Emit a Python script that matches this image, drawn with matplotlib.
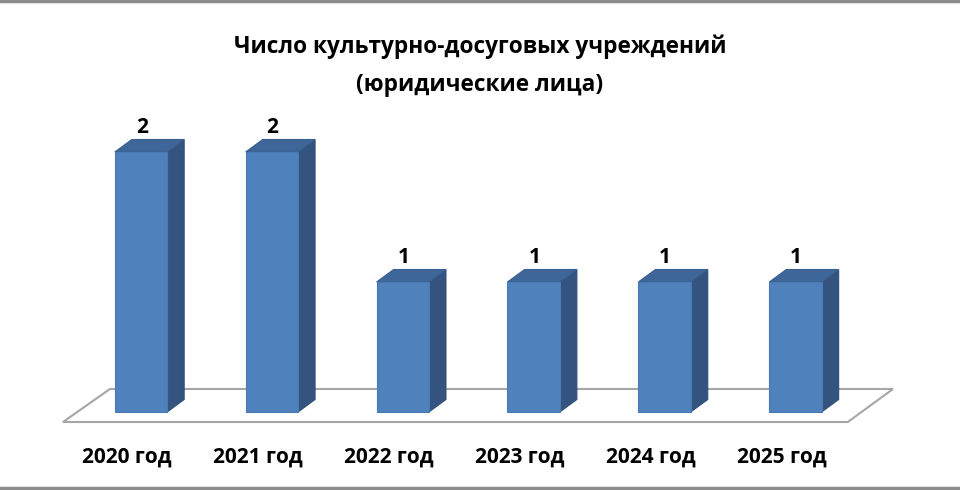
import matplotlib
matplotlib.use("Agg")
import matplotlib.pyplot as plt
from matplotlib.patches import Polygon
from matplotlib.lines import Line2D

# data
years = ["2020 год", "2021 год", "2022 год", "2023 год", "2024 год", "2025 год"]
counts = [2, 2, 1, 1, 1, 1]
title = "Число культурно-досуговых учреждений\n(юридические лица)"

plt.rcParams['font.family'] = ['Open Sans', 'DejaVu Sans']

fig = plt.figure(figsize=(9.6, 4.9), dpi=100)
ax = fig.add_axes([0, 0, 1, 1])
ax.set_xlim(-1.077, 6.257)
ax.set_ylim(-0.6, 3.169)
ax.axis('off')

# 3d look settings (in data units)
half_w = 0.2
dx, dy = 0.13, 0.096
front_col = "#4F81BD"
side_col = "#34547F"
top_col = "#3E6699"

# floor
floor = Polygon([(-0.596, -0.077), (5.40, -0.077), (5.745, 0.177), (-0.237, 0.177)],
                closed=True, facecolor="white", edgecolor="#A6A6A6", lw=1.5, zorder=1)
ax.add_patch(floor)

for i, (lab, v) in enumerate(zip(years, counts)):
    x0, x1 = i - half_w, i + half_w
    # side face
    ax.add_patch(Polygon([(x1, 0), (x1 + dx, dy), (x1 + dx, v + dy), (x1, v)],
                         facecolor=side_col, edgecolor="#30507A", lw=0.8, zorder=2))
    # top face
    ax.add_patch(Polygon([(x0, v), (x1, v), (x1 + dx, v + dy), (x0 + dx, v + dy)],
                         facecolor=top_col, edgecolor="#3A6090", lw=0.8, zorder=2))
    # front face
    ax.add_patch(Polygon([(x0, 0), (x1, 0), (x1, v), (x0, v)],
                         facecolor=front_col, edgecolor="#4A7AB4", lw=0.8, zorder=3))
    # value label
    ax.annotate(str(v), (i + 0.005, v + dy), xytext=(0, 1), textcoords="offset points",
                ha="center", va="bottom", fontsize=15, fontweight="bold", color="black")
    # category label
    ax.text(i - 0.107, -0.346, lab, ha="center", va="center",
            fontsize=15, fontweight="bold", color="black")

fig.text(0.5, 0.866, title, ha="center", va="center", fontsize=16.3,
         fontweight="bold", linespacing=1.8)

# frame lines top and bottom
fig.add_artist(Line2D([0, 1], [0.998, 0.998], color="#8C8C8C", lw=2.5))
fig.add_artist(Line2D([0, 1], [0.004, 0.004], color="#8C8C8C", lw=2.5))

fig.savefig("out.png", dpi=100)
